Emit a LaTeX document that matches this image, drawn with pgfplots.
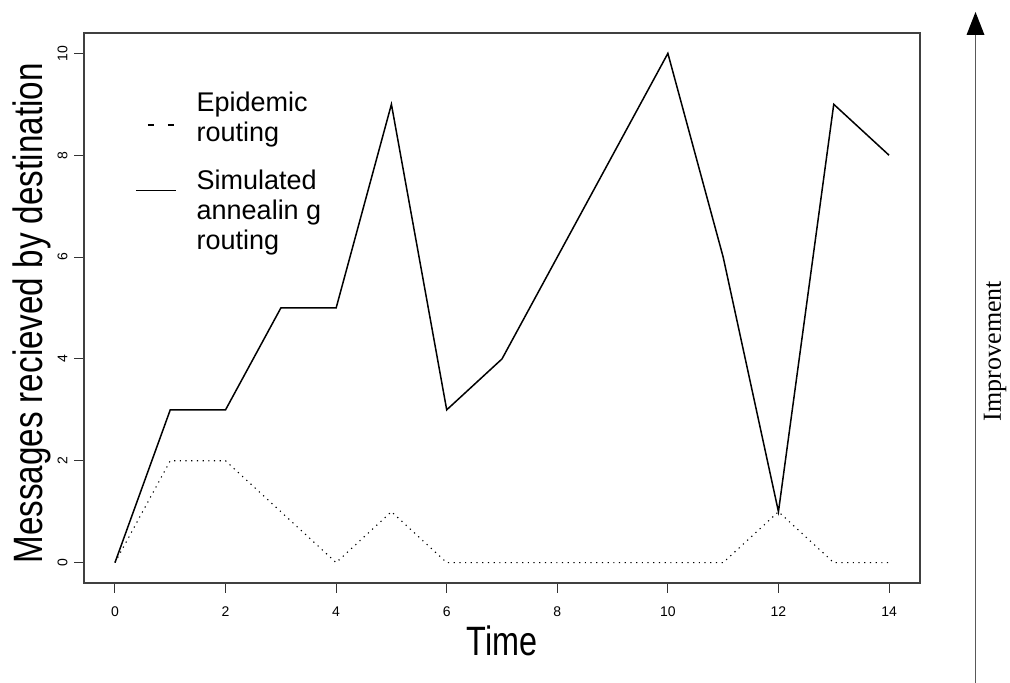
\documentclass[border=0pt]{standalone}
\usepackage{pgfplots}
\pgfplotsset{compat=1.18}
\usepackage{pgfplotstable}
\usepackage{fontspec}
\setmainfont{Liberation Sans}
\newfontfamily\seriffont{Liberation Serif}
\usetikzlibrary{arrows.meta}

\pgfplotstableread{
x y
0 0
1 2
2 2
3 1
4 0
5 1
6 0
7 0
8 0
9 0
10 0
11 0
12 1
13 0
14 0
}\epidemic

\pgfplotstableread{
x y
0 0
1 3
2 3
3 5
4 5
5 9
6 3
7 4
8 6
9 8
10 10
11 6
12 1
13 9
14 8
}\annealing

\begin{document}
\begin{tikzpicture}
\path[use as bounding box] (0pt,0pt) rectangle (1010pt,683pt);
\begin{axis}[
  at={(84pt,100pt)}, anchor=south west,
  scale only axis, width=836pt, height=550pt,
  xmin=-0.56, xmax=14.56, ymin=-0.4, ymax=10.4,
  xtick={0,2,...,14}, ytick={0,2,...,10},
  xtick pos=left, ytick pos=left,
  tick align=outside, major tick length=10pt,
  axis line style={black!75, line width=1.2pt},
  tick style={black!80, line width=1pt},
  xticklabel style={font=\fontsize{14}{14}\selectfont, yshift=-10pt},
  yticklabel style={font=\fontsize{14}{14}\selectfont, xshift=-3pt, rotate=90, anchor=south},
  /pgf/number format/assume math mode=true,
  xlabel={\scalebox{0.79}[1]{Time}},
  ylabel={\scalebox{0.81}[1]{Messages recieved by destination}},
  xlabel style={font=\fontsize{41}{41}\selectfont, at={(axis description cs:0.5,-0.1327)}, anchor=base},
  ylabel style={font=\fontsize{41}{41}\selectfont, at={(axis description cs:-0.0502,0.49)}, anchor=base},
  legend style={draw=none, fill=none, at={(axis description cs:0.061,0.9)}, anchor=north west,
    inner sep=0pt, row sep=22pt, font=\fontsize{27}{30}\selectfont},
  legend cell align=left,
]
\addplot[black, line width=1.1pt, dash pattern=on 1.2pt off 4.5pt,
  legend image code/.code={\draw[black, line width=1.3pt, dash pattern=on 6pt off 14pt, dash phase=8pt] (0pt,-8.5pt) -- (40pt,-8.5pt); \path (58pt,-8.5pt);}]
  table[x=x,y=y] {\epidemic};
\addlegendentry{\begin{tabular}[b]{@{}l@{}}Epidemic\\routing\end{tabular}}
\addplot[black, line width=1.5pt,
  legend image code/.code={\draw[black, line width=1.5pt] (0pt,19.5pt) -- (40pt,19.5pt); \path (58pt,19.5pt);}]
  table[x=x,y=y] {\annealing};
\addlegendentry{\begin{tabular}[b]{@{}l@{}}Simulated\\annealin g\\routing\end{tabular}}
\end{axis}
\draw[black!65, line width=1.3pt] (975.5pt,0pt) -- (975.5pt,650pt);
\fill[black] (975.5pt,671pt) -- (966.5pt,648pt) -- (984.5pt,648pt) -- cycle;
\node[rotate=90, font=\seriffont\fontsize{26}{26}\selectfont, inner sep=0pt] at (995pt,332pt) {Improvement};
\end{tikzpicture}
\end{document}
